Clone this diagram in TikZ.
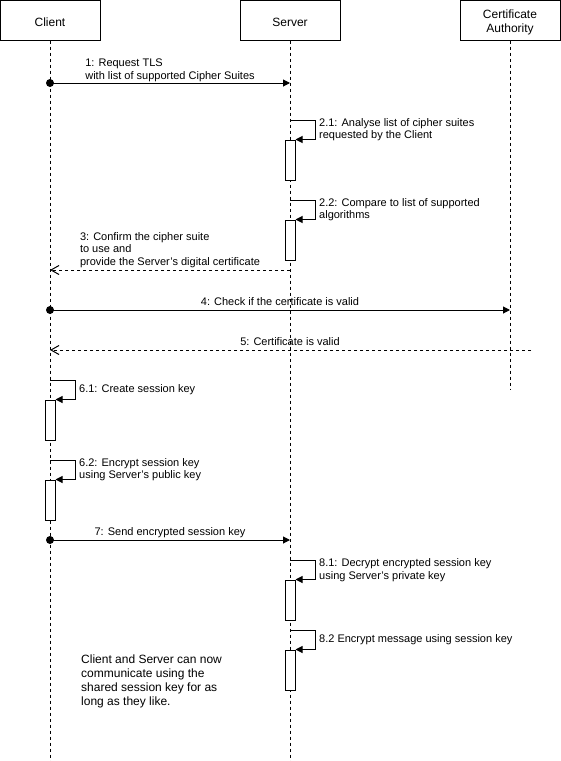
\documentclass[tikz,border=0pt]{standalone}
\usepackage{fontspec}
\setmainfont{Liberation Sans}
\usetikzlibrary{arrows.meta}
\begin{document}
\begin{tikzpicture}[x=1pt,y=-1pt,
  head/.style={draw, line width=1pt, minimum width=100pt, minimum height=40pt,
    inner sep=0pt},
  headtxt/.style={inner sep=0pt, align=center, font=\fontsize{12pt}{14pt}\selectfont},
  life/.style={line width=1pt, dash pattern=on 3pt off 3pt},
  act/.style={draw, fill=white, line width=1pt, minimum width=10pt,
    minimum height=40pt, inner sep=0pt},
  call/.style={line width=1pt, -{Triangle[length=7pt,width=7pt]}},
  reply/.style={line width=1pt, dash pattern=on 3pt off 3pt,
    -{Straight Barb[length=8pt,width=9pt]}},
  selfcall/.style={line width=1pt, -{Triangle[length=7pt,width=7pt]}},
  lbl/.style={inner sep=0pt, align=left, font=\fontsize{11pt}{12.6pt}\selectfont},
  note/.style={inner sep=0pt, align=left, font=\fontsize{12pt}{14pt}\selectfont},
  dot/.style={fill=black}
]
\useasboundingbox (0,0) rectangle (561,761);

% participants
\node[head] (client) at (50,20) {};
\node[head] (server) at (290,20) {};
\node[head] (ca) at (510,20) {};
\node[headtxt] (clientname) at (50,22) {Client};
\node[headtxt] (servername) at (290,22) {Server};
\node[headtxt] (caname) at (510,22) {Certificate\\Authority};

% lifeline ends
\coordinate (clientEnd) at (50,761);
\coordinate (serverEnd) at (290,761);
\coordinate (caEnd) at (510,390);
\draw[life] (client.south) -- (clientEnd);
\draw[life] (server.south) -- (serverEnd);
\draw[life] (ca.south) -- (caEnd);

% message anchor points on the lifelines
\coordinate (c1) at (50,83);   \coordinate (s1) at (290,83);
\coordinate (s3) at (290,270); \coordinate (c3) at (50,270);
\coordinate (c4) at (50,310);  \coordinate (a4) at (510,310);
\coordinate (x5) at (531,350); \coordinate (c5) at (50,350);
\coordinate (c7) at (50,540);  \coordinate (s7) at (290,540);

% self-call starting points
\coordinate (s21) at (290,120);
\coordinate (s22) at (290,200);
\coordinate (c61) at (50,380);
\coordinate (c62) at (50,460);
\coordinate (s81) at (290,560);
\coordinate (s82) at (290,630);

% activation bars
\node[act] (act21) at (290,160) {};
\node[act] (act22) at (290,240) {};
\node[act] (act61) at (50,420) {};
\node[act] (act62) at (50,500) {};
\node[act] (act81) at (290,600) {};
\node[act] (act82) at (290,670) {};

% 1: request
\draw[call] (c1) -- (s1);
\fill[dot] (c1) circle (4pt);
\node[lbl] (m1) at (170,70.5) {1: Request TLS\\with list of supported Cipher Suites};

% 2.1 / 2.2: server self calls
\draw[selfcall] (s21) -- ++(25,0) |- (act21.north east);
\node[lbl, anchor=west] (m21) at (319,129.5) {2.1: Analyse list of cipher suites\\requested by the Client};
\draw[selfcall] (s22) -- ++(25,0) |- (act22.north east);
\node[lbl, anchor=west] (m22) at (319,209.5) {2.2: Compare to list of supported\\algorithms};

% 3: reply with certificate
\draw[reply] (s3) -- (c3);
\node[lbl] (m3) at (170,250) {3: Confirm the cipher suite\\to use and\\provide the Server's digital certificate};

% 4: check certificate
\draw[call] (c4) -- (a4);
\fill[dot] (c4) circle (4pt);
\node[lbl] (m4) at (280,302) {4: Check if the certificate is valid};

% 5: certificate valid
\draw[reply] (x5) -- (c5);
\node[lbl] (m5) at (290,342) {5: Certificate is valid};

% 6.1 / 6.2: client self calls
\draw[selfcall] (c61) -- ++(25,0) |- (act61.north east);
\node[lbl, anchor=west] (m61) at (79,389.5) {6.1: Create session key};
\draw[selfcall] (c62) -- ++(25,0) |- (act62.north east);
\node[lbl, anchor=west] (m62) at (79,469.5) {6.2: Encrypt session key\\using Server's public key};

% 7: send session key
\draw[call] (c7) -- (s7);
\fill[dot] (c7) circle (4pt);
\node[lbl] (m7) at (170,533) {7: Send encrypted session key};

% 8.1 / 8.2: server self calls
\draw[selfcall] (s81) -- ++(25,0) |- (act81.north east);
\node[lbl, anchor=west] (m81) at (319,570) {8.1: Decrypt encrypted session key\\using Server's private key};
\draw[selfcall] (s82) -- ++(25,0) |- (act82.north east);
\node[lbl, anchor=west] (m82) at (319,640) {8.2 Encrypt message using session key};

% closing note
\node[note, anchor=west] (closing) at (81,681.5) {Client and Server can now\\communicate using the\\shared session key for as\\long as they like.};
\end{tikzpicture}
\end{document}
